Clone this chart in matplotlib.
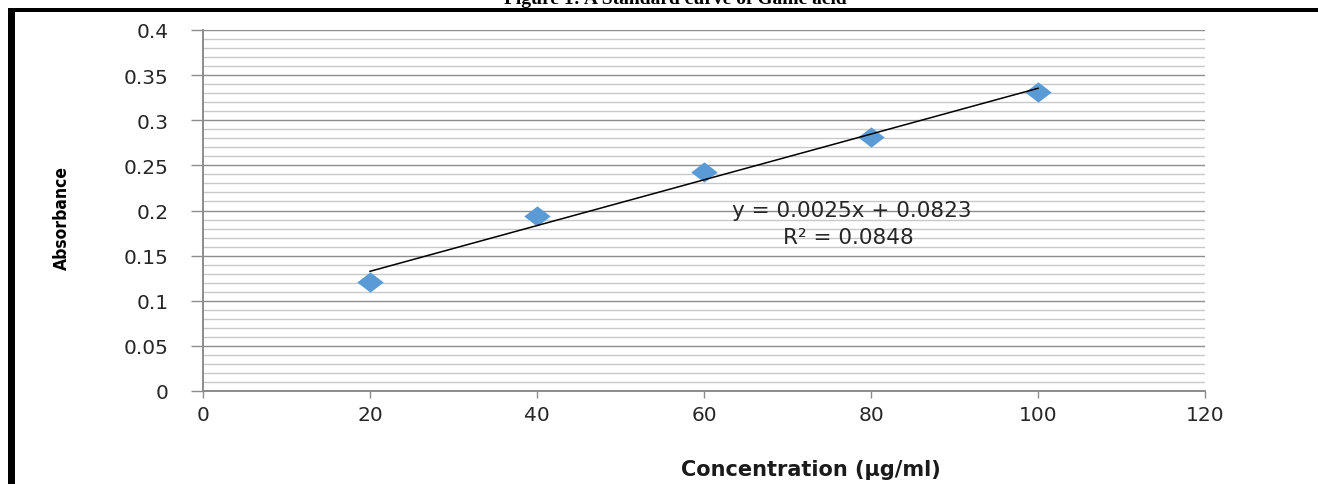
import matplotlib.pyplot as plt
import numpy as np
from matplotlib.path import Path
from matplotlib.patches import Rectangle
from matplotlib.ticker import MultipleLocator

# data
conc = [20, 40, 60, 80, 100]
absorb = [0.121, 0.194, 0.243, 0.281, 0.331]

x_ticks = [0, 20, 40, 60, 80, 100, 120]
y_ticks = [0, 0.05, 0.1, 0.15, 0.2, 0.25, 0.3, 0.35, 0.4]
y_tick_labels = ["0", "0.05", "0.1", "0.15", "0.2", "0.25", "0.3", "0.35", "0.4"]

title = "Figure 1: A Standard curve of Gallic acid"
eq_text = "y = 0.0025x + 0.0823"
r2_text = "R\u00b2 = 0.0848"

W, H = 1318, 485
fig = plt.figure(figsize=(W / 100, H / 100), dpi=100)
ax = fig.add_axes([203 / W, 1 - 392 / H, (1205 - 203) / W, (392 - 31) / H])

# wide diamond marker (Excel style)
diamond = Path([(-1.3, 0), (0, 1), (1.3, 0), (0, -1), (-1.3, 0)],
               [Path.MOVETO, Path.LINETO, Path.LINETO, Path.LINETO, Path.CLOSEPOLY])
ax.plot(conc, absorb, linestyle="none", marker=diamond, markersize=19,
        color="#5b9bd5", markeredgewidth=0, zorder=3)

# linear trendline
slope, intercept = np.polyfit(conc, absorb, 1)
xs = np.array([conc[0], conc[-1]])
ax.plot(xs, slope * xs + intercept, color="black", lw=1.1, zorder=4)

ax.set_xlim(0, 120)
ax.set_ylim(0, 0.4)
ax.set_xticks(x_ticks)
ax.set_yticks(y_ticks)
ax.set_yticklabels(y_tick_labels)
ax.yaxis.set_minor_locator(MultipleLocator(0.01))

ax.grid(which="major", axis="y", color="#8c8c8c", lw=1.0)
ax.grid(which="minor", axis="y", color="#c8c8c8", lw=1.0)
ax.set_axisbelow(True)

for s in ["top", "right"]:
    ax.spines[s].set_visible(False)
for s in ["left", "bottom"]:
    ax.spines[s].set_color("#8c8c8c")
    ax.spines[s].set_linewidth(1.4)

ax.tick_params(axis="y", which="major", direction="out", length=9, width=1,
               color="#8c8c8c", pad=16, labelsize=14.5, labelcolor="#262626")
ax.tick_params(axis="y", which="minor", length=0)
ax.tick_params(axis="x", which="major", direction="out", length=5, width=1,
               color="#8c8c8c", pad=5, labelsize=14.5, labelcolor="#262626")

# axis titles
fig.text(62 / W, 1 - 218 / H, "Absorbance", rotation=90, ha="center", va="center",
         family="DejaVu Sans", stretch="condensed", weight="bold", fontsize=12.5)
fig.text(811 / W, 1 - 470 / H, "Concentration (\u00b5g/ml)", ha="center", va="center",
         weight="bold", fontsize=15, color="#1a1a1a")

# trendline equation
fig.text(852 / W, 1 - 211 / H, eq_text, ha="center", va="center", fontsize=15.5, color="#262626")
fig.text(848 / W, 1 - 238 / H, r2_text, ha="center", va="center", fontsize=15.5, color="#262626")

# page title (cut off at the top, as in the source) and black frame
fig.text(675 / W, 1 - 4 / H, title, ha="center", va="baseline",
         family="Liberation Serif", weight="bold", fontsize=14)
fig.add_artist(Rectangle((8 / W, 0), 7 / W, 476 / H, transform=fig.transFigure,
                         color="black", lw=0))
fig.add_artist(Rectangle((8 / W, 472 / H), (W - 8) / W, 4 / H, transform=fig.transFigure,
                         color="black", lw=0))

fig.savefig("out.png", dpi=100)
